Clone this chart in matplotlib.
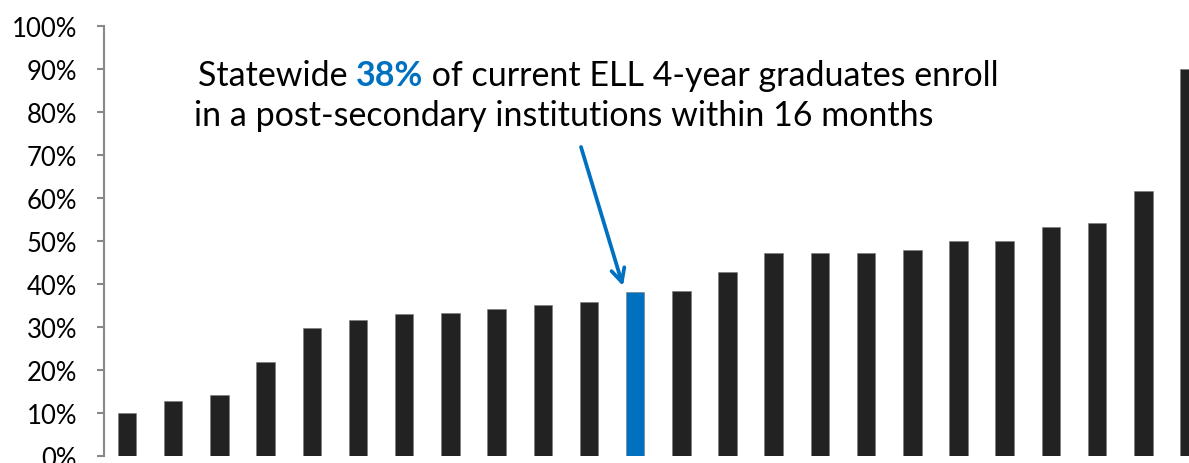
import numpy as np
import matplotlib
matplotlib.use('Agg')
import matplotlib.pyplot as plt

plt.rcParams['font.family'] = ['Lato', 'DejaVu Sans']

# enrollment rate per district, sorted (percent)
rates = [9.9, 12.8, 14.2, 21.7, 29.6, 31.6, 32.9, 33.3, 34.1, 35.0, 35.7, 38.0,
         38.4, 42.8, 47.1, 47.1, 47.1, 47.8, 49.9, 49.9, 53.1, 54.2, 61.5, 89.9]
state_idx = 11  # statewide bar
yticks = [0, 10, 20, 30, 40, 50, 60, 70, 80, 90, 100]
ytick_labels = ['%d%%' % t for t in yticks]

W, H = 1189, 464
fig = plt.figure(figsize=(W/100, H/100), dpi=100)
ax = fig.add_axes([103.5/W, 1-456.7/H, 1-103.5/W, (456.7-26.7)/H])

x = np.arange(len(rates))
colors = ['#222222']*len(rates)
colors[state_idx] = '#0070C0'
ax.bar(x, rates, width=0.40, color=colors, edgecolor='#777777', linewidth=0.4)

ax.set_xlim(-0.509, 22.99)
ax.set_ylim(0, 100)
ax.set_yticks(yticks)
ax.set_yticklabels(ytick_labels, fontsize=18.5)
ax.set_xticks([])
for s in ['top', 'right', 'bottom']:
    ax.spines[s].set_visible(False)
ax.spines['left'].set_color('#888888')
ax.spines['left'].set_linewidth(1.5)
ax.tick_params(axis='y', direction='out', length=5, width=1.5, color='#888888', pad=14)

# annotation text, drawn piece by piece so 38% can be bold blue
fig.canvas.draw()
r = fig.canvas.get_renderer()

def put(xp, yp, s, **kw):
    t = fig.text(xp/W, 1-yp/H, s, va='baseline', ha='left', fontsize=24.5, **kw)
    bb = t.get_window_extent(renderer=r)
    return bb.x1

xp = put(198, 86, 'Statewide ')
xp = put(xp, 86, '38%', color='#0070C0', fontweight='bold')
put(xp, 86, ' of current ELL 4-year graduates enroll')
put(194, 126, 'in a post-secondary institutions within 16 months')

ax.annotate('', xy=(623/W, 1-287/H), xytext=(581/W, 1-148/H),
            xycoords='figure fraction', textcoords='figure fraction',
            arrowprops=dict(arrowstyle='->', color='#0070C0', lw=2.7,
                            mutation_scale=24, shrinkA=0, shrinkB=0))

plt.savefig('out.png', dpi=100)
